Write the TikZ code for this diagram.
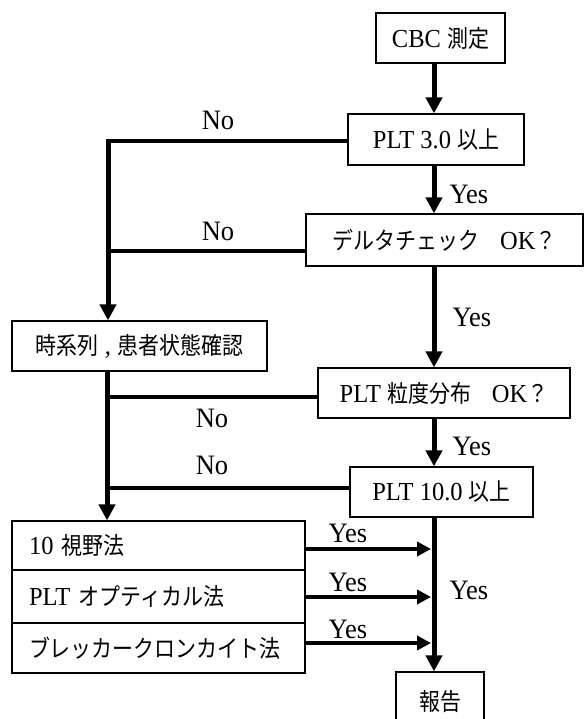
\documentclass[tikz,border=0pt]{standalone}
\usepackage{graphicx}
\usepackage{fontspec}
\setmainfont{Liberation Serif}
\newfontfamily\jp{Noto Sans CJK JP}[Scale=0.92, FakeStretch=0.93]
\usetikzlibrary{arrows.meta}
\newcommand\btext{\fontsize{24.5}{30}\selectfont}
\newcommand\ltext{\fontsize{26.5}{32}\selectfont}
\newcommand\vs[1]{\scalebox{1}[1.06]{#1}}
\begin{document}
\begin{tikzpicture}[x=1pt,y=-1pt,
  box/.style={draw, line width=1.2pt, inner sep=0pt, font=\btext, align=center},
  mbox/.style={box, text width=259pt, inner xsep=17pt, align=left},
  lbl/.style={font=\ltext, inner sep=0pt},
  vflow/.style={line width=5pt, -{Triangle[width=16pt,length=16pt]}},
  hflow/.style={line width=4.5pt, -{Triangle[width=14pt,length=14pt]}},
  hline/.style={line width=4.5pt}]
\useasboundingbox (0,0) rectangle (584,719);
\clip (0,0) rectangle (584,719);
% boxes
\node[box, minimum width=129pt, minimum height=50pt] (cbc) at (440.5,38) {\vs{CBC {\jp 測定}}};
\node[box, minimum width=176pt, minimum height=51pt] (plt3) at (436,139.5) {\vs{PLT 3.0 {\jp 以上}}};
\node[box, minimum width=277pt, minimum height=52pt] (delta) at (444.5,240) {\vs{{\jp デルタチェック　}OK{\jp ？}}};
\node[box, minimum width=255pt, minimum height=50pt] (jikei) at (139.5,346) {\vs{{\jp 時系列} , {\jp 患者状態確認}}};
\node[box, minimum width=252pt, minimum height=50pt] (ryudo) at (444,393) {\vs{PLT {\jp 粒度分布　}OK{\jp ？}}};
\node[box, minimum width=183pt, minimum height=50pt] (plt10) at (441.5,492) {\vs{PLT 10.0 {\jp 以上}}};
\node[mbox, minimum height=49pt] (m1) at (158.5,545.5) {\vs{10 {\jp 視野法}}};
\node[mbox, minimum height=53pt] (m2) at (158.5,596.5) {\vs{PLT {\jp オプティカル法}}};
\node[mbox, minimum height=50pt] (m3) at (158.5,648) {\vs{{\jp ブレッカークロンカイト法}}};
\node[box, minimum width=88pt, minimum height=60pt] (hok) at (440,702) {\vs{{\jp 報告}}};
% coordinates
\coordinate (sp) at (434,0);
\coordinate (L1) at (108,141);
\coordinate (L2) at (108,251);
\coordinate (L3) at (107,397);
\coordinate (L4) at (107,488);
\coordinate (Y1) at (431,549);
\coordinate (Y2) at (431,597);
\coordinate (Y3) at (431,643);
% right spine
\draw[vflow] (cbc.south -| sp) -- (plt3.north -| sp);
\draw[vflow] (plt3.south -| sp) -- (delta.north -| sp);
\draw[vflow] (delta.south -| sp) -- (ryudo.north -| sp);
\draw[vflow] (ryudo.south -| sp) -- (plt10.north -| sp);
\draw[vflow] (plt10.south -| sp) -- (hok.north -| sp);
% left branches
\draw[hline] (plt3.west |- L1) -- ([xshift=-2.5pt]L1);
\draw[vflow] ([yshift=2.25pt]L1) -- (jikei.north -| L1);
\draw[hline] (delta.west |- L2) -- (L2);
\draw[vflow] (jikei.south -| L3) -- (m1.north -| L3);
\draw[hline] (ryudo.west |- L3) -- (L3);
\draw[hline] (plt10.west |- L4) -- (L4);
% method arrows
\draw[hflow] (m1.east |- Y1) -- (Y1);
\draw[hflow] (m2.east |- Y2) -- (Y2);
\draw[hflow] (m3.east |- Y3) -- (Y3);
% labels
\node[lbl] (no1) at (218,120) {\vs{No}};
\node[lbl] (no2) at (218,231) {\vs{No}};
\node[lbl] (no3) at (212,418) {\vs{No}};
\node[lbl] (no4) at (212,465) {\vs{No}};
\node[lbl] (ys1) at (469,194) {\vs{Yes}};
\node[lbl] (ys2) at (472,317) {\vs{Yes}};
\node[lbl] (ys3) at (472,446) {\vs{Yes}};
\node[lbl] (ys4) at (469,590) {\vs{Yes}};
\node[lbl] (ys5) at (348,533) {\vs{Yes}};
\node[lbl] (ys6) at (348,582) {\vs{Yes}};
\node[lbl] (ys7) at (348,629) {\vs{Yes}};
\end{tikzpicture}
\end{document}
